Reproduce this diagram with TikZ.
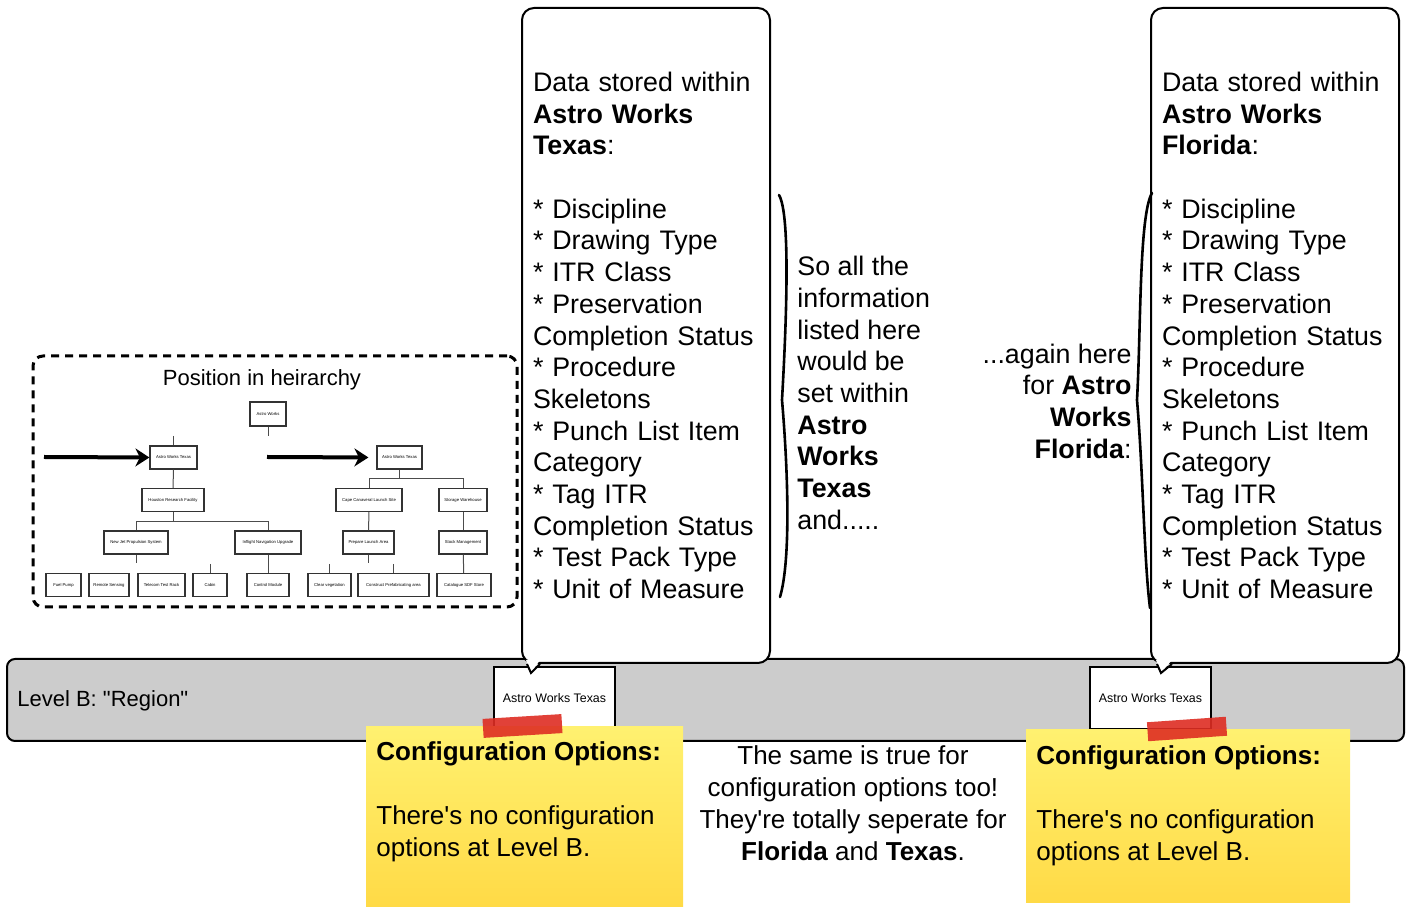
\documentclass[tikz,border=0pt]{standalone}
\usepackage{fontspec}
\setmainfont{Liberation Sans}
\usetikzlibrary{positioning}
\usetikzlibrary{arrows.meta}
\definecolor{barGray}{RGB}{204,204,204}
\definecolor{noteTop}{RGB}{255,241,112}
\definecolor{noteBottom}{RGB}{255,218,70}
\definecolor{tapeRed}{RGB}{222,45,35}
\newcommand{\bodyfont}{\fontsize{13.4}{15.85}\selectfont}

\begin{document}
\begin{tikzpicture}[x=0.5pt,y=-0.5pt,
    callout/.style={draw=black,line width=1pt,fill=white,rounded corners=6pt,
        minimum width=124pt,minimum height=327.5pt,text width=113pt,inner xsep=5.5pt,
        align=left,font=\bodyfont},
    levelbox/.style={draw=black,line width=0.8pt,fill=white,minimum width=60.5pt,
        minimum height=31pt,inner sep=0pt,font=\fontsize{6.2}{7}\selectfont},
    sticky/.style={top color=noteTop,bottom color=noteBottom,inner sep=0pt},
    tape/.style={fill=tapeRed,fill opacity=0.9,minimum width=39.5pt,minimum height=9.5pt,inner sep=0pt},
    mini/.style={draw=black!80,line width=0.6pt,fill=white,inner sep=0pt,minimum height=11.5pt,
        font=\fontsize{2.1}{2.4}\selectfont},
    tree/.style={draw=black!70,line width=0.5pt},
    brace/.style={line width=1.3pt,line cap=round},
    fatarrow/.style={line width=2pt,-{Stealth[length=7pt,width=9pt]}},
    plain/.style={inner sep=0pt,font=\bodyfont}]

    \useasboundingbox (0,0) rectangle (1410,908);

    \node[draw=black,line width=1pt,fill=barGray,rounded corners=4pt,minimum width=698.5pt,
        minimum height=41pt,inner sep=0pt] (LevelB) at (705.5,700) {};
    \node[anchor=west,inner sep=0pt,font=\fontsize{11}{13}\selectfont] (LevelLabel) at (17,701)
        {Level B: \textquotedbl Region\textquotedbl};

    \node[levelbox] (TexasBox) at (554.5,698) {Astro Works Texas};
    \node[levelbox] (FloridaBox) at (1150.5,698) {Astro Works Texas};

    \node[callout] (TexasData) at (646,335.5) {Data stored within\\ \textbf{Astro Works}\\ \textbf{Texas}:\\[15.85pt]
        {*} Discipline\\ {*} Drawing Type\\ {*} ITR Class\\ {*} Preservation\\ Completion Status\\ {*} Procedure\\ Skeletons\\
        {*} Punch List Item\\ Category\\ {*} Tag ITR\\ Completion Status\\ {*} Test Pack Type\\ {*} Unit of Measure};
    \node[callout] (FloridaData) at (1275,335.5) {Data stored within\\ \textbf{Astro Works}\\ \textbf{Florida}:\\[15.85pt]
        {*} Discipline\\ {*} Drawing Type\\ {*} ITR Class\\ {*} Preservation\\ Completion Status\\ {*} Procedure\\ Skeletons\\
        {*} Punch List Item\\ Category\\ {*} Tag ITR\\ Completion Status\\ {*} Test Pack Type\\ {*} Unit of Measure};

    \coordinate (TexasTip) at (531,673);
    \coordinate (FloridaTip) at (1161,673);
    \fill[white] ([xshift=2.5pt,yshift=2pt]TexasData.south west) -- (TexasTip) -- ([xshift=9.5pt,yshift=2pt]TexasData.south west) -- cycle;
    \draw[line width=1pt] ([xshift=3pt]TexasData.south west) -- (TexasTip) -- ([xshift=9.5pt]TexasData.south west);
    \fill[white] ([xshift=3pt,yshift=2pt]FloridaData.south west) -- (FloridaTip) -- ([xshift=11pt,yshift=2pt]FloridaData.south west) -- cycle;
    \draw[line width=1pt] ([xshift=3.5pt]FloridaData.south west) -- (FloridaTip) -- ([xshift=11pt]FloridaData.south west);

    \draw[brace] (779,195) .. controls (791,215) and (786,330) .. (782,400) .. controls (788,470) and (791,560) .. (780,597);
    \draw[brace] (1152,193) .. controls (1139,215) and (1141,330) .. (1137,400) .. controls (1143,470) and (1144,560) .. (1150,608);

    \node[plain,anchor=west,align=left] (SoAll) at (797,393) {So all the\\ information\\ listed here\\ would be\\ set within\\
        \textbf{Astro}\\ \textbf{Works}\\ \textbf{Texas}\\ and.....};
    \node[plain,anchor=east,align=right] (AgainHere) at (1132,401) {...again here\\ for \textbf{Astro}\\ \textbf{Works}\\ \textbf{Florida}:};

    \node[sticky,minimum width=158.5pt,minimum height=90pt] (NoteTexas) at (524.5,817) {};
    \node[sticky,minimum width=162pt,minimum height=86.5pt] (NoteFlorida) at (1188,816.5) {};
    \node[tape,rotate=3.5] (TapeTexas) at (522.5,726) {};
    \node[tape,rotate=4] (TapeFlorida) at (1187,729) {};
    \node[plain,anchor=west,align=left,font=\fontsize{13}{16}\selectfont] (NoteTexasText) at (376,802)
        {\textbf{Configuration Options:}\\[16pt] There\textquotesingle s no configuration\\ options at Level B.};
    \node[plain,anchor=west,align=left,font=\fontsize{13}{16}\selectfont] (NoteFloridaText) at (1036,806)
        {\textbf{Configuration Options:}\\[16pt] There\textquotesingle s no configuration\\ options at Level B.};

    \node[plain,align=center,font=\fontsize{13}{16}\selectfont] (SameTrue) at (853,803.5) {The same is true for\\
        configuration options too!\\ They\textquotesingle re totally seperate for\\ \textbf{Florida} and \textbf{Texas}.};

    \node[draw=black,line width=1.5pt,dash pattern=on 4pt off 3pt,rounded corners=5pt,minimum width=242pt,
        minimum height=125.5pt,inner sep=0pt] (Heirarchy) at (275,481.5) {};
    \node[inner sep=0pt,font=\fontsize{11}{13}\selectfont] (HeirTitle) at (262,380) {Position in heirarchy};

    \node[mini,minimum width=18pt,minimum height=12pt] (AstroWorks) at (268,414) {Astro Works};
    \node[mini,minimum width=23.5pt] (AWTexasL) at (173.5,457.5) {Astro Works Texas};
    \node[mini,minimum width=31pt] (Houston) at (173,500) {Houston Research Facility};
    \node[mini,minimum width=32pt] (JetProp) at (136,542.5) {New Jet Propulsion System};
    \node[mini,minimum width=33pt] (Inflight) at (268,542.5) {Inflight Navigation Upgrade};
    \node[mini,minimum width=17.5pt] (FuelPump) at (63.5,585) {Fuel Pump};
    \node[mini,minimum width=20pt] (RemoteSensing) at (109,585) {Remote Sensing};
    \node[mini,minimum width=23.5pt] (TelecomRack) at (161.5,585) {Telecom Test Rack};
    \node[mini,minimum width=17pt] (Cabin) at (210,585) {Cabin};
    \node[mini,minimum width=21pt] (ControlModule) at (268,585) {Control Module};
    \node[mini,minimum width=22.5pt] (AWTexasR) at (399.5,457.5) {Astro Works Texas};
    \node[mini,minimum width=33pt] (CapeCanaveral) at (369,500) {Cape Canaveral Launch Site};
    \node[mini,minimum width=24pt] (Storage) at (463,500) {Storage Warehouse};
    \node[mini,minimum width=25.5pt] (PrepareLaunch) at (368.5,542.5) {Prepare Launch Area};
    \node[mini,minimum width=24pt] (StockMgmt) at (463,542.5) {Stock Management};
    \node[mini,minimum width=21.5pt] (ClearVeg) at (329.5,585) {Clear vegetation};
    \node[mini,minimum width=35.5pt] (Construct) at (393.5,585) {Construct Prefabricating area};
    \node[mini,minimum width=27pt] (Catalogue) at (464,585) {Catalogue SDF Store};

    \coordinate (AWStub) at (268,436);
    \coordinate (AWTLStub) at (173.5,436);
    \coordinate (JetStub) at (136,563);
    \coordinate (CabinStub) at (210,564);
    \coordinate (LaunchStub) at (368.5,563);
    \coordinate (ClearStub) at (329.5,564);
    \coordinate (ConstructStub) at (393.5,564);

    \draw[tree] (AstroWorks) -- (AWStub);
    \draw[tree] (AWTLStub) -- (AWTexasL);
    \draw[tree] (AWTexasL) -- (Houston);
    \draw[tree] (Houston.south) -- ++(0,9) -| (JetProp.north);
    \draw[tree] (Houston.south) -- ++(0,9) -| (Inflight.north);
    \draw[tree] (JetProp) -- (JetStub);
    \draw[tree] (CabinStub) -- (Cabin);
    \draw[tree] (Inflight) -- (ControlModule);
    \draw[tree] (AWTexasR.south) -- ++(0,9) -| (CapeCanaveral.north);
    \draw[tree] (AWTexasR.south) -- ++(0,9) -| (Storage.north);
    \draw[tree] (CapeCanaveral) -- (PrepareLaunch);
    \draw[tree] (PrepareLaunch) -- (LaunchStub);
    \draw[tree] (ClearStub) -- (ClearVeg);
    \draw[tree] (ConstructStub) -- (Construct);
    \draw[tree] (Storage) -- (StockMgmt);
    \draw[tree] (StockMgmt) -- (Catalogue);

    \coordinate (ArrowStartL) at (44,457);
    \coordinate (ArrowStartR) at (267,457);
    \draw[fatarrow] (ArrowStartL) -- (AWTexasL.west);
    \draw[fatarrow,shorten >=4pt] (ArrowStartR) -- (AWTexasR.west);
\end{tikzpicture}
\end{document}
